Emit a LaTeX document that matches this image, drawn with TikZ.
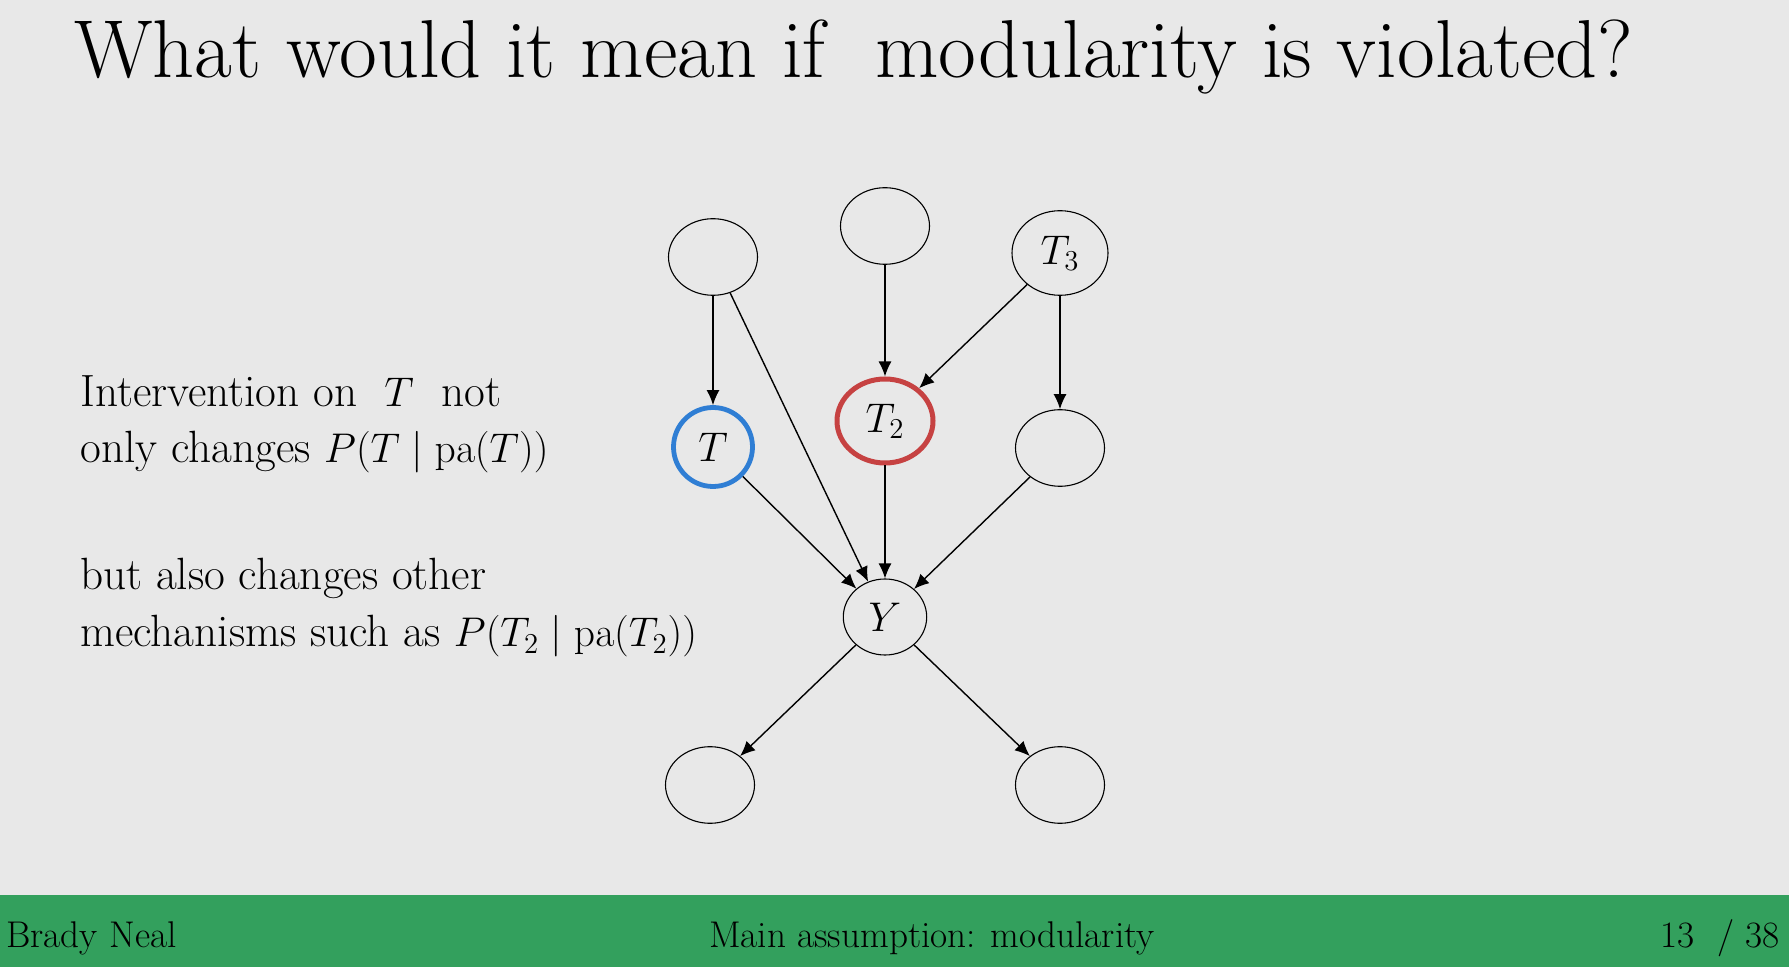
\documentclass[tikz,border=0pt]{standalone}
\usetikzlibrary{shapes.geometric,arrows.meta}
\definecolor{bggray}{RGB}{232,232,232}
\definecolor{footgreen}{RGB}{51,160,93}
\definecolor{tblue}{RGB}{47,126,212}
\definecolor{tred}{RGB}{198,66,66}
\begin{document}
\begin{tikzpicture}[x=0.5pt,y=-0.5pt,
  var/.style={ellipse,draw=black,line width=0.55pt,minimum width=44.5pt,minimum height=38.3pt,inner sep=0pt,font=\fontsize{19.5}{23}\selectfont},
  edge/.style={line width=0.7pt,-{Latex[length=7.5pt,width=6.5pt]}},
  bodytext/.style={anchor=base west,inner sep=0pt,font=\fontsize{22.6}{26}\selectfont},
  foot/.style={inner sep=0pt,font=\fontsize{18.6}{22}\selectfont}]
\fill[bggray] (0,0) rectangle (1789,967);
\useasboundingbox (0,0) rectangle (1789,967);
\fill[footgreen] (0,895) rectangle (1789,967);
% title
\node[anchor=base west,inner sep=0pt,font=\fontsize{41.1}{48}\selectfont] (title) at (74,78) {What would it mean if~ modularity is violated?};
% left text
\node[bodytext] (l1) at (80,407) {Intervention on ~$T$~ not};
\node[bodytext] (l2) at (80,463) {only changes $P(T\mid \mathrm{pa}(T))$};
\node[bodytext] (l3) at (80,590) {but also changes other};
\node[bodytext] (l4) at (80,647) {mechanisms such as $P(T_2\mid \mathrm{pa}(T_2))$};
% nodes
\node[var] (A) at (713,257) {};
\node[var] (B) at (885,226) {};
\node[var,minimum width=48pt,minimum height=42.3pt] (T3) at (1060,253) {$T_3$};
\node[var,draw=tblue,line width=2.4pt,minimum width=39.5pt,minimum height=39.5pt] (T) at (713,447) {$T$};
\node[var,draw=tred,line width=2.5pt,minimum width=48pt,minimum height=42pt] (T2) at (885,421) {$T_2$};
\node[var] (C) at (1060,448) {};
\node[var,minimum width=41.7pt,minimum height=38pt] (Y) at (885,617) {$Y$};
\node[var] (D) at (710,785) {};
\node[var] (E) at (1060,785) {};
% edges
\draw[edge] (A) -- (T);
\draw[edge] (A) -- (Y);
\draw[edge] (B) -- (T2);
\draw[edge] (T3) -- (T2);
\draw[edge] (T3) -- (C);
\draw[edge] (T) -- (Y);
\draw[edge] (T2) -- (Y);
\draw[edge] (C) -- (Y);
\draw[edge] (Y) -- (D);
\draw[edge] (Y) -- (E);
% footer
\node[foot,anchor=base west] (f1) at (6,947) {Brady Neal};
\node[foot,anchor=base] (f2) at (932,947) {Main assumption: modularity};
\node[foot,anchor=base east] (f3) at (1780,947) {13 ~/~38};
\end{tikzpicture}
\end{document}
